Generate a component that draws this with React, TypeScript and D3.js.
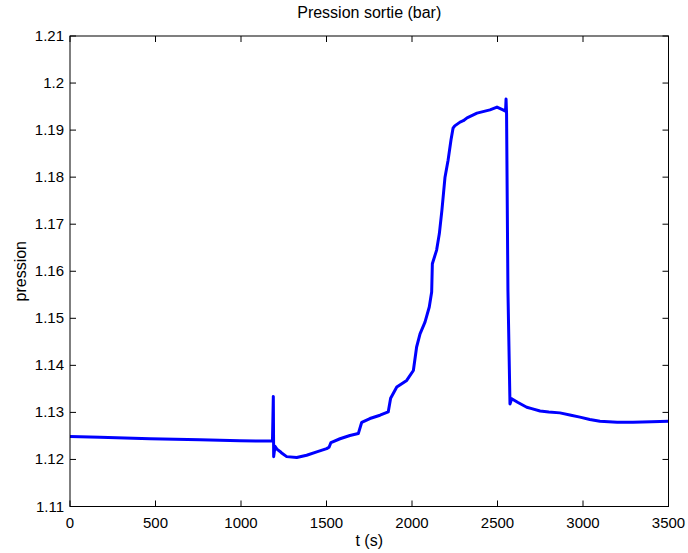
import React from "react";
import * as d3 from "d3";

const times = [0, 175, 468, 760, 994, 1140, 1184, 1189, 1191, 1199, 1210, 1228, 1240, 1267, 1326, 1384, 1443, 1501, 1515, 1526, 1579, 1637, 1686, 1706, 1754, 1813, 1861, 1875, 1911, 1969, 2008, 2027, 2047, 2076, 2101, 2115, 2119, 2144, 2160, 2175, 2193, 2211, 2228, 2240, 2250, 2281, 2300, 2322, 2380, 2456, 2497, 2532, 2547, 2550, 2553, 2561, 2573, 2583, 2620, 2671, 2700, 2749, 2800, 2865, 2930, 2982, 3040, 3099, 3200, 3292, 3400, 3500];
const pressure = [1.1249, 1.1247, 1.1244, 1.1242, 1.124, 1.1239, 1.1239, 1.1334, 1.1206, 1.1228, 1.1222, 1.1217, 1.1213, 1.1206, 1.1204, 1.1209, 1.1216, 1.1223, 1.1226, 1.1236, 1.1244, 1.1251, 1.1255, 1.1279, 1.1287, 1.1294, 1.1301, 1.133, 1.1354, 1.1368, 1.1389, 1.1439, 1.1467, 1.1492, 1.1524, 1.1556, 1.1616, 1.1645, 1.168, 1.173, 1.18, 1.1836, 1.1879, 1.1904, 1.1909, 1.1917, 1.192, 1.1926, 1.1936, 1.1943, 1.1949, 1.1943, 1.194, 1.1966, 1.1935, 1.156, 1.1318, 1.1329, 1.1321, 1.1311, 1.1308, 1.1303, 1.1301, 1.1299, 1.1294, 1.129, 1.1285, 1.1281, 1.1279, 1.1279, 1.1280, 1.1281];

const xTicks = [0, 500, 1000, 1500, 2000, 2500, 3000, 3500];
const yTicks = [1.11, 1.12, 1.13, 1.14, 1.15, 1.16, 1.17, 1.18, 1.19, 1.2, 1.21];

const W = 688, H = 553;
const L = 70, R = 668.5, T = 36, B = 506.5;

export default function App() {
  const x = d3.scaleLinear().domain([0, 3500]).range([L, R]);
  const y = d3.scaleLinear().domain([1.11, 1.21]).range([B, T]);
  const line = d3.line<number>().x((_, i) => x(times[i])).y((d) => y(d));
  const path = line(pressure) || "";
  const font = "Liberation Sans, Arial, sans-serif";
  return (
    <svg width={W} height={H} style={{ position: "absolute", left: 0, top: 0, background: "#fff" }}>
      <rect x={0} y={0} width={W} height={H} fill="#fff" />
      <path d={path} fill="none" stroke="#0000ff" strokeWidth={3} strokeLinejoin="round" />
      <rect x={L} y={T} width={R - L} height={B - T} fill="none" stroke="#000" strokeWidth={1} />
      {xTicks.map((t) => (
        <g key={"x" + t}>
          <line x1={x(t)} x2={x(t)} y1={B} y2={B - 6} stroke="#000" />
          <line x1={x(t)} x2={x(t)} y1={T} y2={T + 6} stroke="#000" />
          <text x={x(t)} y={528} textAnchor="middle" fontFamily={font} fontSize={15} fill="#000">{t}</text>
        </g>
      ))}
      {yTicks.map((v) => (
        <g key={"y" + v}>
          <line x1={L} x2={L + 6} y1={y(v)} y2={y(v)} stroke="#000" />
          <line x1={R} x2={R - 6} y1={y(v)} y2={y(v)} stroke="#000" />
          <text x={64} y={y(v) + 5} textAnchor="end" fontFamily={font} fontSize={15} fill="#000">{String(v)}</text>
        </g>
      ))}
      <text x={(L + R) / 2} y={18} textAnchor="middle" fontFamily={font} fontSize={16} fill="#000">Pression sortie (bar)</text>
      <text x={(L + R) / 2} y={546} textAnchor="middle" fontFamily={font} fontSize={16} fill="#000">t (s)</text>
      <text transform={`translate(26,${(T + B) / 2}) rotate(-90)`} textAnchor="middle" fontFamily={font} fontSize={16} fill="#000">pression</text>
    </svg>
  );
}
